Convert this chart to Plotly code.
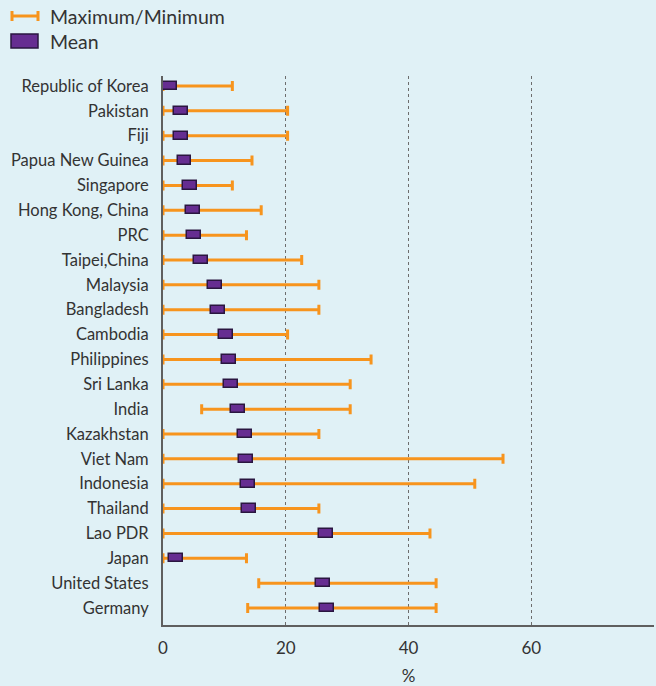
import plotly.graph_objects as go

countries = ["Republic of Korea", "Pakistan", "Fiji", "Papua New Guinea", "Singapore",
             "Hong Kong, China", "PRC", "Taipei,China", "Malaysia", "Bangladesh",
             "Cambodia", "Philippines", "Sri Lanka", "India", "Kazakhstan", "Viet Nam",
             "Indonesia", "Thailand", "Lao PDR", "Japan", "United States", "Germany"]
min_vals = [0, 0, 0, 0, 0, 0, 0, 0, 0, 0, 0, 0, 0, 6.3, 0, 0, 0, 0, 0, 0, 15.6, 13.8]
max_vals = [11.3, 20.3, 20.3, 14.5, 11.3, 16.0, 13.6, 22.6, 25.4, 25.4, 20.3, 33.9,
            30.5, 30.5, 25.4, 55.4, 50.8, 25.4, 43.5, 13.6, 44.5, 44.5]
mean_vals = [1.1, 2.9, 2.9, 3.5, 4.4, 4.9, 5.1, 6.2, 8.5, 8.9, 10.2, 10.8, 11.1, 12.2,
             13.3, 13.5, 13.8, 14.0, 26.6, 2.1, 26.1, 26.7]
x_ticks = [0, 20, 40, 60]

BG = "#e0f1f6"
ORANGE = "#f7941d"
PURPLE = "#662d91"
TEXT = "#333333"
FONT = "Lato"

idx = list(range(len(countries)))
mid = [(a + b) / 2 for a, b in zip(min_vals, max_vals)]
half = [(b - a) / 2 for a, b in zip(min_vals, max_vals)]
box_len = 2.25

fig = go.Figure()
fig.add_trace(go.Scatter(
    x=mid, y=idx, mode="markers",
    marker=dict(size=1, color="rgba(0,0,0,0)"),
    error_x=dict(type="data", symmetric=False, array=half, arrayminus=half,
                 color=ORANGE, thickness=3, width=5),
    showlegend=False, hoverinfo="skip", cliponaxis=False,
    xaxis="x", yaxis="y"))
fig.add_trace(go.Bar(
    x=[box_len] * len(mean_vals), base=[m - box_len / 2 for m in mean_vals], y=idx,
    orientation="h", width=0.33,
    marker=dict(color=PURPLE, line=dict(color="#2a1640", width=1.5)),
    showlegend=False, hoverinfo="skip",
    xaxis="x", yaxis="y2"))

yrange = [21.684, -0.402]
fig.update_layout(
    width=656, height=686,
    margin=dict(l=163, r=2, t=76, b=61),
    paper_bgcolor=BG, plot_bgcolor=BG,
    font=dict(family=FONT, color=TEXT, size=16),
    xaxis=dict(range=[0, 80], tickvals=x_ticks, ticktext=[str(v) for v in x_ticks],
               showgrid=True, gridcolor="#6d6d6d", griddash="dot", gridwidth=1,
               zeroline=False, showline=True, linecolor="#5f5f5f", linewidth=2,
               ticks="outside", ticklen=7, tickcolor="rgba(0,0,0,0)",
               tickfont=dict(size=17, color=TEXT),
               title=dict(text="%", font=dict(size=17, color=TEXT), standoff=13)),
    yaxis=dict(range=yrange, tickvals=idx, ticktext=countries, showgrid=False,
               zeroline=False, showline=True, linecolor="#5f5f5f", linewidth=2,
               ticks="outside", ticklen=9, tickcolor="rgba(0,0,0,0)",
               tickfont=dict(size=16.5, color=TEXT)),
    yaxis2=dict(range=yrange, overlaying="y", visible=False, showgrid=False,
                zeroline=False),
    bargap=0,
)

# Legend (drawn manually)
def px_x(p):
    return (p - 163) / 491

def px_y(p):
    return (625 - p) / 549

lx0, lx1, ly = px_x(12), px_x(38), px_y(16)
fig.add_shape(type="line", xref="paper", yref="paper", x0=lx0, x1=lx1, y0=ly, y1=ly,
              line=dict(color=ORANGE, width=3))
for xx in (lx0, lx1):
    fig.add_shape(type="line", xref="paper", yref="paper", x0=xx, x1=xx,
                  y0=px_y(11), y1=px_y(21), line=dict(color=ORANGE, width=3))
fig.add_shape(type="rect", xref="paper", yref="paper", x0=px_x(11), x1=px_x(38),
              y0=px_y(34), y1=px_y(48), fillcolor=PURPLE,
              line=dict(color="#2a1640", width=1.5))
fig.add_annotation(xref="paper", yref="paper", x=px_x(48), y=ly, text="Maximum/Minimum",
                   showarrow=False, xanchor="left", yanchor="middle",
                   font=dict(size=19.5, color=TEXT))
fig.add_annotation(xref="paper", yref="paper", x=px_x(48), y=px_y(41), text="Mean",
                   showarrow=False, xanchor="left", yanchor="middle",
                   font=dict(size=19.5, color=TEXT))

fig.write_html("out.html", config={"displayModeBar": False},
               post_script="document.body.style.margin='0';")
